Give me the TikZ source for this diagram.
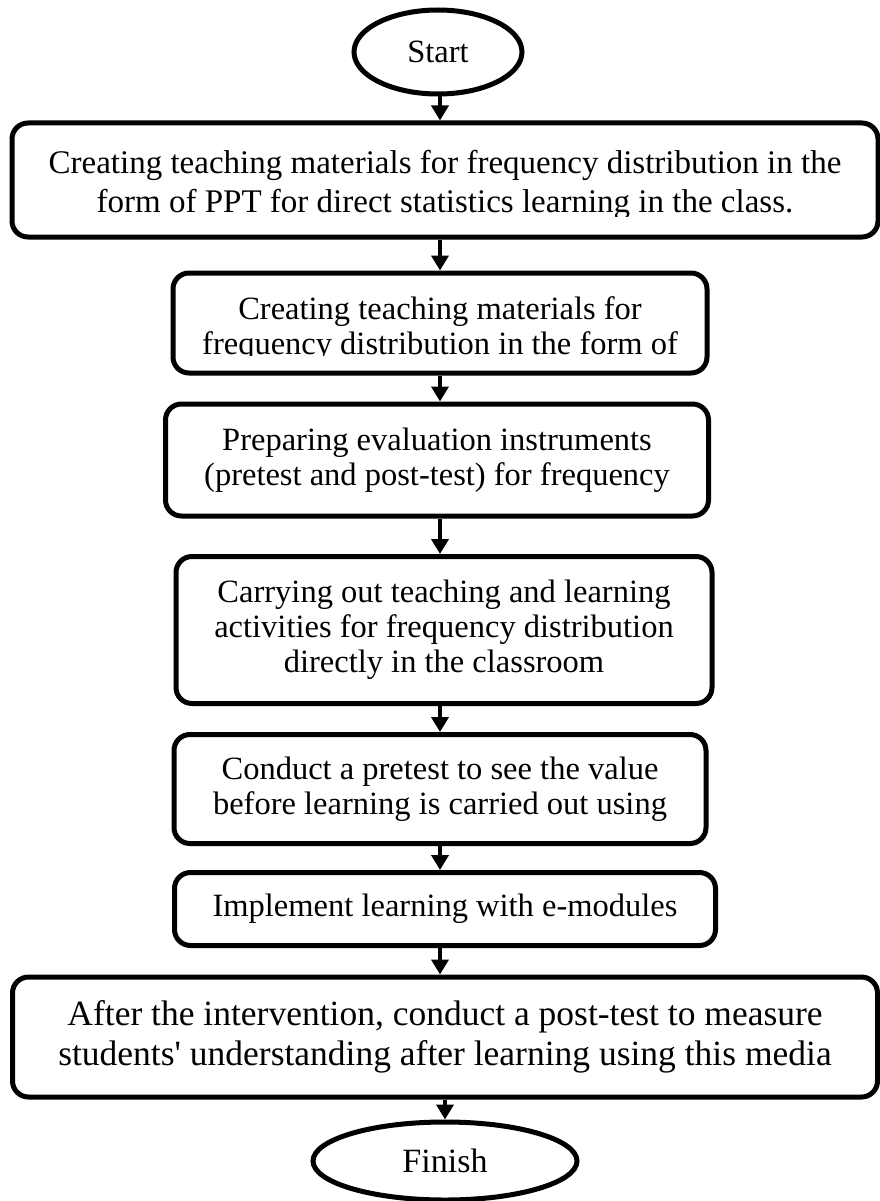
\documentclass[tikz,border=0pt]{standalone}
\usepackage{fontspec}
\setmainfont{Liberation Serif}
\usetikzlibrary{shapes.geometric,arrows.meta}

\tikzset{
  stepbox/.style={draw, line width=5pt, rounded corners=16pt, inner sep=0pt,
                  align=center, font=\fontsize{32.5}{35}\selectfont},
  terminal/.style={draw, ellipse, line width=5pt, inner sep=0pt,
                   font=\fontsize{32.5}{35}\selectfont},
  boxtext/.style={align=center, inner sep=0pt, font=\fontsize{32.5}{35}\selectfont},
  flow/.style={line width=4pt, -{Triangle[width=17pt,length=15pt]}},
}

\begin{document}
\begin{tikzpicture}[x=1pt,y=-1pt]
\useasboundingbox (0,0) rectangle (880,1201);

% terminals and process boxes
\node[terminal, minimum width=168pt, minimum height=84pt] (start) at (438,52) {Start};
\node[stepbox, minimum width=866pt, minimum height=114pt] (b1) at (445,180) {};
\node[stepbox, minimum width=534pt, minimum height=100pt] (b2) at (440,323) {};
\node[stepbox, minimum width=543pt, minimum height=112pt] (b3) at (437,460)
  {Preparing evaluation instruments\\(pretest and post-test) for frequency};
\node[stepbox, minimum width=536pt, minimum height=147pt] (b4) at (444,630)
  {Carrying out teaching and learning\\activities for frequency distribution\\directly in the classroom};
\node[stepbox, minimum width=532pt, minimum height=109pt] (b5) at (440,789)
  {Conduct a pretest to see the value\\before learning is carried out using};
\node[stepbox, minimum width=541pt, minimum height=73pt] (b6) at (445,909)
  {Implement learning with e-modules};
\node[stepbox, minimum width=865pt, minimum height=120pt, font=\fontsize{35.5}{40}\selectfont]
  (b7) at (445,1037)
  {After the intervention, conduct a post-test to measure\\students\textquotesingle{} understanding after learning using this media};
\node[terminal, minimum width=264pt, minimum height=78pt, font=\fontsize{34}{37}\selectfont]
  (finish) at (445,1161) {Finish};

% text of the first two boxes runs past their lower edge and is cut off
\begin{scope}
  \clip (0,123) rectangle (880,216);
  \node[boxtext, font=\fontsize{33}{39}\selectfont] (t1) at (445,185)
    {Creating teaching materials for frequency distribution in the\\form of PPT for direct statistics learning in the class.};
\end{scope}
\begin{scope}
  \clip (0,273) rectangle (880,355);
  \node[boxtext] (t2) at (440,329)
    {Creating teaching materials for\\frequency distribution in the form of};
\end{scope}

% connectors
\draw[flow] (start.south -| b2.north) -- (b1.north -| b2.north);
\draw[flow] (b1.south -| b2.north) -- (b2.north);
\draw[flow] (b2.south) -- (b3.north -| b2.south);
\draw[flow] (b3.south -| b2.south) -- (b4.north -| b2.south);
\draw[flow] (b4.south -| b5.north) -- (b5.north);
\draw[flow] (b5.south) -- (b6.north -| b5.south);
\draw[flow] (b6.south -| b5.south) -- (b7.north -| b5.south);
\draw[flow] (b7.south -| finish.north) -- (finish.north);
\end{tikzpicture}
\end{document}
